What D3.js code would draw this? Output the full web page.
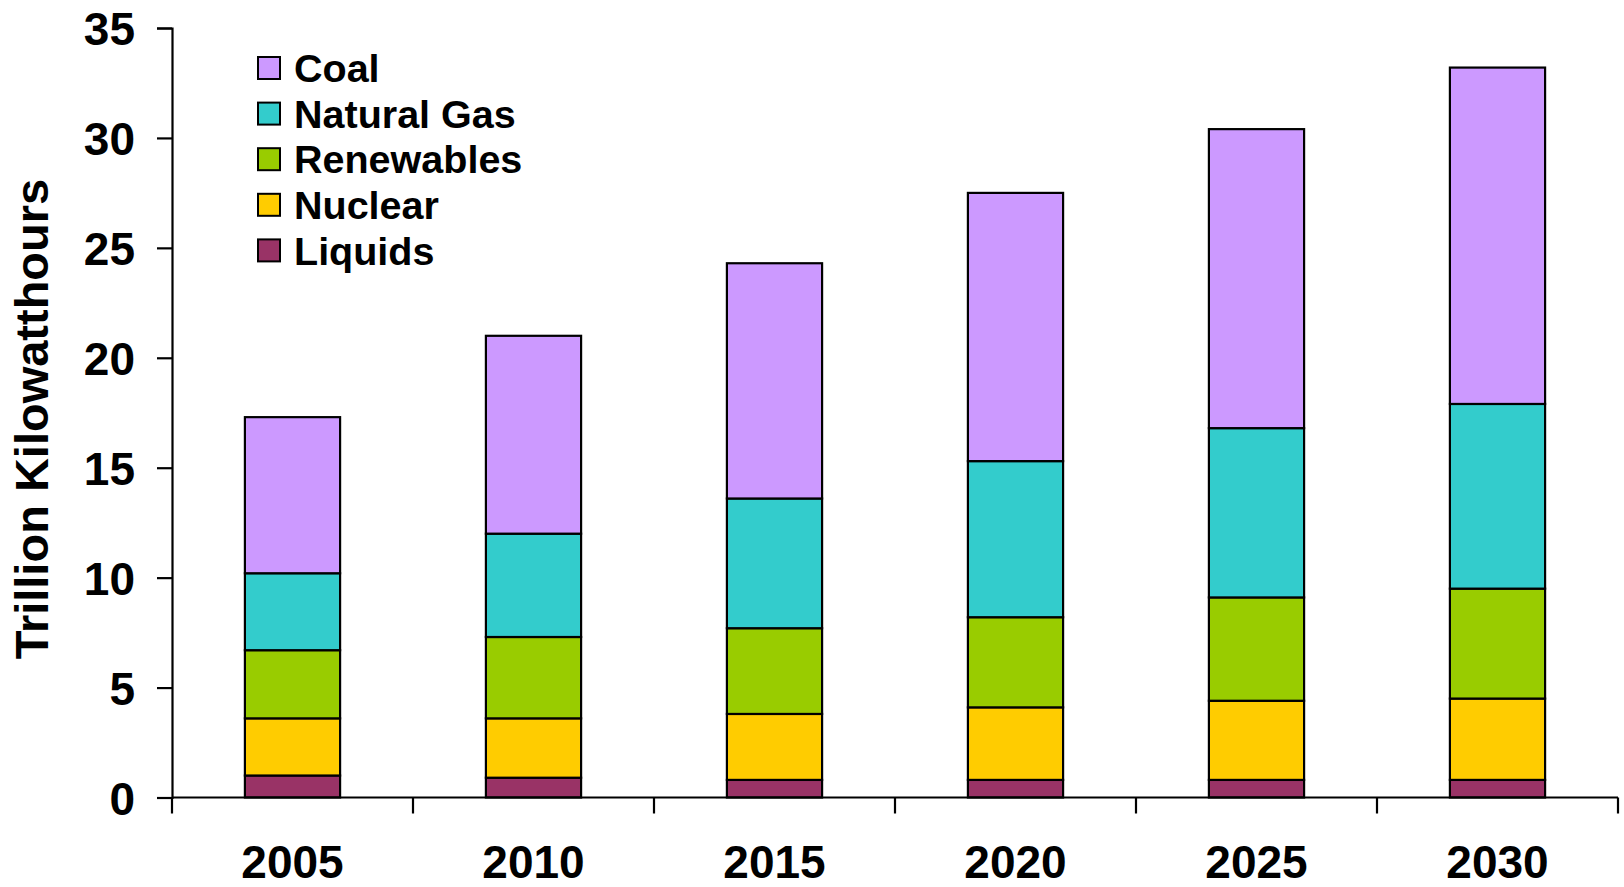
<!DOCTYPE html>
<html><head><meta charset="utf-8">
<script src="https://cdn.jsdelivr.net/npm/d3@7"></script>
<style>
html,body{margin:0;padding:0;background:#fff;}
svg text{font-family:"Liberation Sans",Arial,sans-serif;font-weight:bold;fill:#000;}
</style></head>
<body>
<svg id="chart" width="1624" height="887"></svg>
<script>
const years = ["2005","2010","2015","2020","2025","2030"];
const seriesNames = ["Liquids","Nuclear","Renewables","Natural Gas","Coal"];
const liquids    = [1.0, 0.9, 0.8, 0.8, 0.8, 0.8];
const nuclear    = [2.6, 2.7, 3.0, 3.3, 3.6, 3.7];
const renewables = [3.1, 3.7, 3.9, 4.1, 4.7, 5.0];
const naturalGas = [3.5, 4.7, 5.9, 7.1, 7.7, 8.4];
const coal       = [7.1, 9.0, 10.7, 12.2, 13.6, 15.3];
const yTicks = [0,5,10,15,20,25,30,35];
const colors = ["#993366","#FFCC00","#99CC00","#33CCCC","#CC99FF"];
const legendOrder = ["Coal","Natural Gas","Renewables","Nuclear","Liquids"];

const rows = years.map((y,i)=>({year:y, "Liquids":liquids[i], "Nuclear":nuclear[i], "Renewables":renewables[i], "Natural Gas":naturalGas[i], "Coal":coal[i]}));
const stacked = d3.stack().keys(seriesNames)(rows);

const svg = d3.select("#chart");
const x0 = 172, x1 = 1618, yTop = 28, yBot = 797.5;
const x = d3.scaleBand().domain(years).range([x0,x1]).paddingInner(0.605).paddingOuter(0.3025);
const y = d3.scaleLinear().domain([0,35]).range([yBot,yTop]);
const color = d3.scaleOrdinal().domain(seriesNames).range(colors);

// bars
svg.append("g").selectAll("g").data(stacked).join("g")
  .attr("fill", d=>color(d.key))
  .selectAll("rect").data(d=>d).join("rect")
  .attr("x", d=>x(d.data.year))
  .attr("width", x.bandwidth())
  .attr("y", d=>y(d[1]))
  .attr("height", d=>y(d[0])-y(d[1]))
  .attr("stroke","#000").attr("stroke-width",2.2);

// y axis
const yAxis = svg.append("g").attr("transform",`translate(${x0},0)`)
  .call(d3.axisLeft(y).tickValues(yTicks).tickSize(15).tickPadding(22).tickFormat(d3.format("d")));
yAxis.select(".domain").attr("stroke","#000").attr("stroke-width",2.2);
yAxis.selectAll(".tick line").attr("stroke","#000").attr("stroke-width",2.2);
yAxis.selectAll("text").style("font-size","46px").attr("dy","0.36em");

// x axis
const xAxis = svg.append("g").attr("transform",`translate(0,${yBot})`);
xAxis.append("line").attr("x1",x0).attr("x2",x1).attr("y1",0).attr("y2",0).attr("stroke","#000").attr("stroke-width",2.2);
const bounds = d3.range(years.length+1).map(i=> x0 + i*(x1-x0)/years.length);
xAxis.selectAll("line.tk").data(bounds).join("line").attr("class","tk")
  .attr("x1",d=>d).attr("x2",d=>d).attr("y1",0).attr("y2",16).attr("stroke","#000").attr("stroke-width",2.2);
xAxis.selectAll("text").data(years).join("text")
  .attr("x", d=>x(d)+x.bandwidth()/2).attr("y", 80)
  .attr("text-anchor","middle").style("font-size","46px").text(d=>d);

// y title
svg.append("text").attr("transform","translate(48,419) rotate(-90)")
  .attr("text-anchor","middle").style("font-size","47px").text("Trillion Kilowatthours");

// legend
const lg = svg.append("g").selectAll("g").data(legendOrder).join("g")
  .attr("transform",(d,i)=>`translate(258,${68+i*45.6})`);
lg.append("rect").attr("x",0).attr("y",-11).attr("width",22).attr("height",22)
  .attr("fill",d=>color(d)).attr("stroke","#000").attr("stroke-width",2);
lg.append("text").attr("x",36).attr("y",0).attr("dy","0.36em").style("font-size","39.5px").text(d=>d);
</script>
</body></html>
